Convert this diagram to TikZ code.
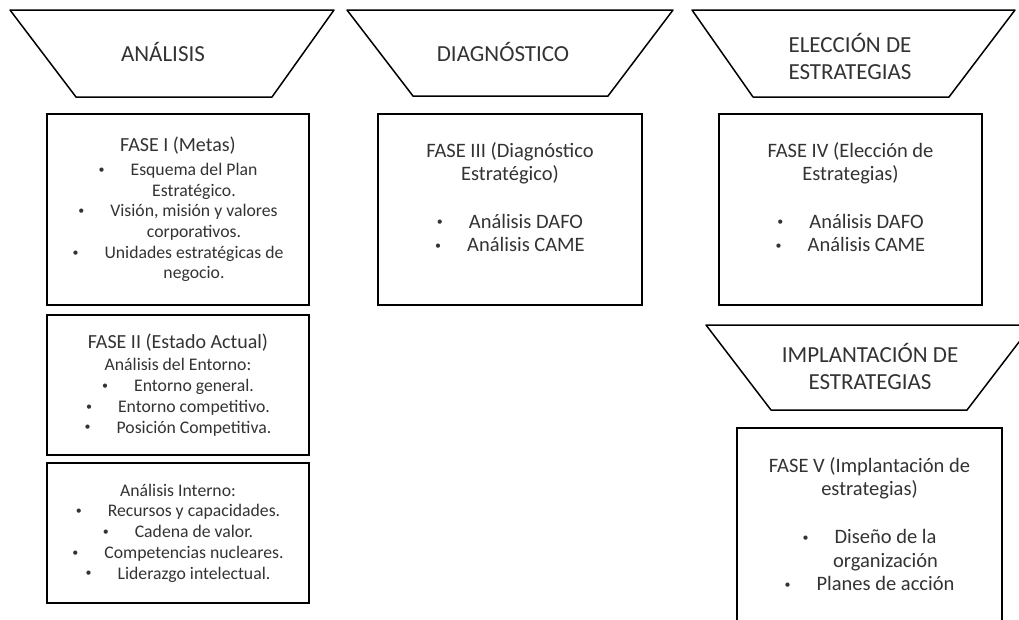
\documentclass[tikz,border=0pt]{standalone}
\usepackage{fontspec}
\setmainfont{Carlito}
\usetikzlibrary{positioning}
\definecolor{grisfase}{gray}{0.2}
\newcommand{\punto}{\raisebox{0.12em}{\fontsize{12}{12}\selectfont\textbullet}}
\newcommand{\vineta}{\punto\hspace{26pt}}
\newcommand{\sangria}{\hphantom{\punto}\hspace{26pt}}
\newcommand{\titfase}{\fontsize{20}{24}\selectfont}
\tikzset{
  etapa/.style={draw, line width=1.5pt, line join=round},
  etiqueta/.style={text=grisfase, align=center, inner sep=0pt, font=\fontsize{23}{27}\selectfont},
  fase/.style={draw, line width=1.5pt, inner sep=0pt},
  lista/.style={text=grisfase, align=center, inner sep=0pt, font=\fontsize{17.7}{20.7}\selectfont},
  listagrande/.style={text=grisfase, align=center, inner sep=0pt, font=\fontsize{20.5}{23.5}\selectfont}
}

\begin{document}
\begin{tikzpicture}[x=1pt, y=-1pt]
            \path[use as bounding box, clip](0,0)rectangle(1019,619);
            \path[fill=white](0,0)rectangle(1019,619);
            % stage headers
            \path[etapa](10,10)--(334,10)--(272,97)--(76,97)--cycle;
            \path[etapa](347,10)--(673,10)--(608,96)--(413,96)--cycle;
            \path[etapa](692,10)--(1015,10)--(949,97)--(753,97)--cycle;
            \path[etapa](706,325)--(1032,325)--(967,410)--(771,410)--cycle;
            \node[etiqueta](analisis)at(163,52){ANÁLISIS};
            \node[etiqueta](diagnostico)at(503,52){DIAGNÓSTICO};
            \node[etiqueta](eleccion)at(850,56.5){ELECCIÓN DE\\ESTRATEGIAS};
            \node[etiqueta](implantacion)at(870,366.5){IMPLANTACIÓN DE\\ESTRATEGIAS};
            % analysis column
            \node[fase, minimum width=262pt, minimum height=191pt](fase1)at(178,209.5){};
            \node[fase, minimum width=262pt, minimum height=140pt](fase2)at(178,385){};
            \node[fase, minimum width=262pt, minimum height=140pt](interno)at(178,533){};
            \node[lista](txtfase1)at(fase1.center){{\titfase FASE I (Metas)}\\[3pt]
                \vineta Esquema del Plan\\ \sangria Estratégico.\\
                \vineta Visión, misión y valores\\ \sangria corporativos.\\
                \vineta Unidades estratégicas de\\ \sangria negocio.};
            \node[lista](txtfase2)at(fase2.center){{\titfase FASE II (Estado Actual)}\\[1.5pt]
                Análisis del Entorno:\\ \vineta Entorno general.\\
                \vineta Entorno competitivo.\\ \vineta Posición Competitiva.};
            \node[lista](txtinterno)at(interno.center){Análisis Interno:\\
                \vineta Recursos y capacidades.\\ \vineta Cadena de valor.\\
                \vineta Competencias nucleares.\\ \vineta Liderazgo intelectual.};
            % diagnosis and choice
            \node[fase, minimum width=264pt, minimum height=191pt](fase3)at(510,209.5){};
            \node[fase, minimum width=263pt, minimum height=191pt](fase4)at(850.5,209.5){};
            \node[listagrande, below=29pt of fase3.north](txtfase3){FASE III (Diagnóstico\\
                Estratégico)\\[24pt] \vineta Análisis DAFO\\ \vineta Análisis CAME};
            \node[listagrande, below=29pt of fase4.north](txtfase4){FASE IV (Elección de\\
                Estrategias)\\[24pt] \vineta Análisis DAFO\\ \vineta Análisis CAME};
            % implementation, runs off the page
            \node[fase, minimum width=265pt, minimum height=222pt](fase5)at(869.5,539){};
            \node[listagrande, below=30pt of fase5.north](txtfase5){FASE V (Implantación de\\
                estrategias)\\[24.5pt] \vineta Diseño de la\\ \sangria organización\\
                \vineta Planes de acción};
        \end{tikzpicture}
\end{document}
